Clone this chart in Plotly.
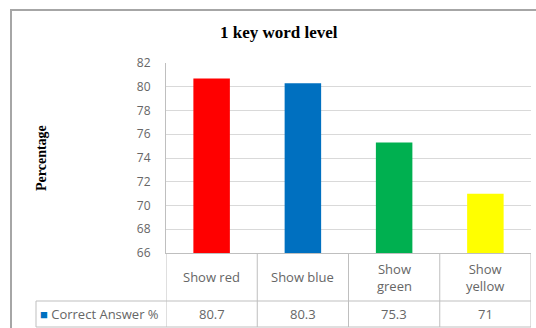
import plotly.graph_objects as go

categories = ["Show red", "Show blue", "Show green", "Show yellow"]
tick_labels = ["Show red", "Show blue", "Show<br>green", "Show<br>yellow"]
values = [80.7, 80.3, 75.3, 71]
value_labels = ["80.7", "80.3", "75.3", "71"]
bar_colors = ["#FF0000", "#0070C0", "#00B050", "#FFFF00"]
series_name = "Correct Answer %"
title_text = "1 key word level"
y_title = "Percentage"
y_range = [66, 82]

W, H = 536, 328
L, R, T, B = 166, 5, 63, 75
pw = W - L - R
ph = H - T - B

def px_x(X):
    return (X - L) / pw

def px_y(Y):
    return (H - B - Y) / ph

fig = go.Figure()
fig.add_trace(go.Bar(
    x=categories, y=values, marker=dict(color=bar_colors, line=dict(width=0)),
    width=0.4, showlegend=False, hoverinfo="skip",
))

line_col = "#BFBFBF"
tick_font = dict(family="Open Sans, Liberation Sans, sans-serif", size=12, color="#666666")
table_font = dict(family="Open Sans, Liberation Sans, sans-serif", size=13, color="#666666")

row1_bot = px_y(301)
row2_bot = px_y(327)
row_center1 = px_y(277)
row_center2 = px_y(314)
hdr_left = px_x(36)
n = len(categories)

shapes = []
for i in range(n + 1):
    shapes.append(dict(type="line", xref="x", yref="paper", x0=i - 0.5, x1=i - 0.5,
                       y0=0, y1=row2_bot, line=dict(color=line_col, width=1)))
shapes.append(dict(type="line", xref="paper", yref="paper", x0=hdr_left, x1=1,
                   y0=row1_bot, y1=row1_bot, line=dict(color=line_col, width=1)))
shapes.append(dict(type="line", xref="paper", yref="paper", x0=hdr_left, x1=1,
                   y0=row2_bot, y1=row2_bot, line=dict(color=line_col, width=1)))
shapes.append(dict(type="line", xref="paper", yref="paper", x0=hdr_left, x1=hdr_left,
                   y0=row1_bot, y1=row2_bot, line=dict(color=line_col, width=1)))
shapes.append(dict(type="rect", xref="paper", yref="paper", x0=px_x(11), x1=px_x(545),
                   y0=px_y(340), y1=px_y(10), line=dict(color="#A6A6A6", width=2)))

annotations = []
for i, (lab, v) in enumerate(zip(tick_labels, value_labels)):
    annotations.append(dict(x=categories[i], xref="x", y=row_center1, yref="paper",
                            text=lab, showarrow=False, font=table_font,
                            xanchor="center", yanchor="middle"))
    annotations.append(dict(x=categories[i], xref="x", y=row_center2, yref="paper",
                            text=v, showarrow=False, font=table_font,
                            xanchor="center", yanchor="middle"))
annotations.append(dict(x=px_x(38), xref="paper", y=row_center2, yref="paper",
                        text="<span style='color:#0070C0'>■</span> " + series_name,
                        showarrow=False, font=table_font, xanchor="left", yanchor="middle"))
annotations.append(dict(x=px_x(41), xref="paper", y=px_y(158), yref="paper",
                        text="<b>" + y_title + "</b>", textangle=-90, showarrow=False,
                        font=dict(family="Liberation Serif, Times New Roman, serif", size=14, color="#000000"),
                        xanchor="center", yanchor="middle"))
annotations.append(dict(x=px_x(279), xref="paper", y=px_y(33), yref="paper",
                        text="<b>" + title_text + "</b>", showarrow=False,
                        font=dict(family="Liberation Serif, Times New Roman, serif", size=17, color="#000000"),
                        xanchor="center", yanchor="middle"))

fig.update_layout(
    width=W, height=H, autosize=False,
    margin=dict(l=L, r=R, t=T, b=B, pad=0),
    paper_bgcolor="white", plot_bgcolor="white",
    xaxis=dict(type="category", range=[-0.5, n - 0.5], showticklabels=False,
               showgrid=False, showline=True, linecolor=line_col, ticks="", zeroline=False),
    yaxis=dict(range=y_range, dtick=2, tick0=66, showgrid=True, gridcolor="#D9D9D9",
               showline=True, linecolor=line_col, ticks="", zeroline=False,
               tickfont=tick_font, ticklabelstandoff=12),
    shapes=shapes, annotations=annotations, bargap=0.6,
)

fig.write_html("out.html")
